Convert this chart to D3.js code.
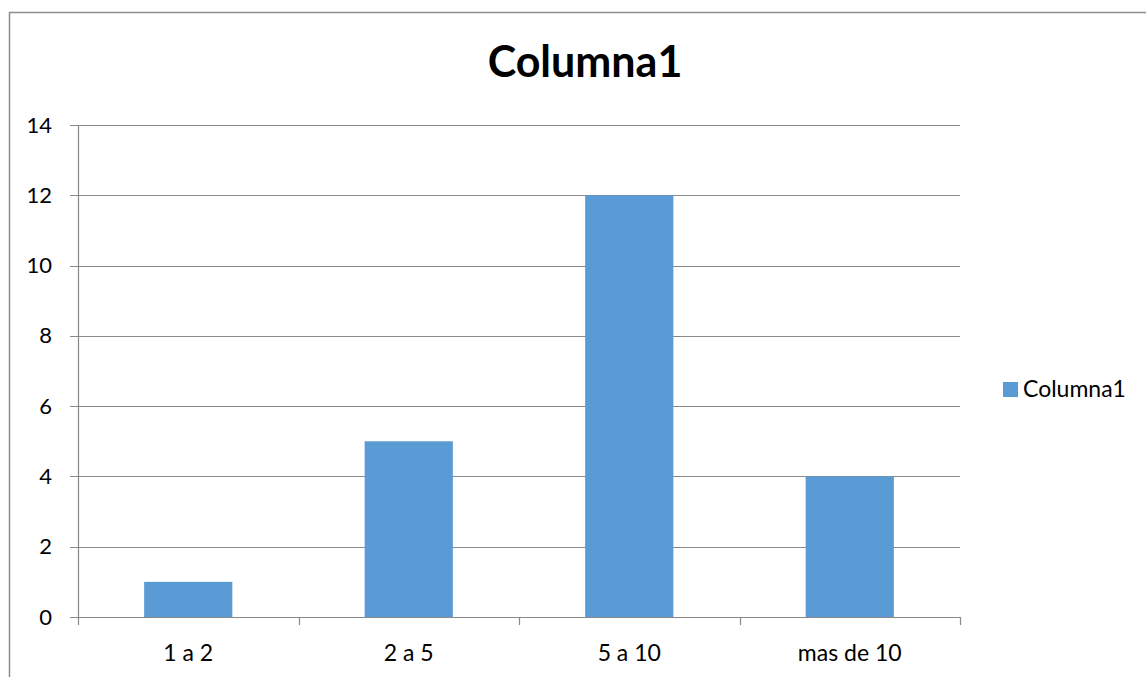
<!DOCTYPE html>
<html><head><meta charset="utf-8">
<script src="https://cdn.jsdelivr.net/npm/d3@7"></script>
<style>body{margin:0;background:#fff}svg{display:block}text{font-family:Lato,Carlito,"Open Sans",sans-serif;fill:#000}</style>
</head><body><svg id="c" width="1146" height="677"></svg>
<script>
const categories = ["1 a 2", "2 a 5", "5 a 10", "mas de 10"];
const values = [1, 5, 12, 4];
const yTicks = [0, 2, 4, 6, 8, 10, 12, 14];
const seriesName = "Columna1";
const title = "Columna1";

const svg = d3.select("#c");
const W = 1146, H = 677;
const m = {left: 78, right: 960, top: 125, bottom: 617};
const grey = "#898989";

// outer chart border (top and left visible)
svg.append("path").attr("d", `M9.5,${H} V12.5 H${W}`).attr("fill","none").attr("stroke","#8c8c8c").attr("stroke-width",1.5);

const x = d3.scaleBand().domain(categories).range([m.left, m.right]).paddingInner(0.6).paddingOuter(0.3);
const y = d3.scaleLinear().domain([0, 14]).range([m.bottom, m.top]);

// gridlines
svg.append("g").selectAll("line").data(yTicks).join("line")
  .attr("x1", m.left - 8).attr("x2", m.right)
  .attr("y1", d => Math.round(y(d)) + 0.5).attr("y2", d => Math.round(y(d)) + 0.5)
  .attr("stroke", grey).attr("stroke-width", 1.2);

// y axis line
svg.append("line").attr("x1", m.left + 0.5).attr("x2", m.left + 0.5)
  .attr("y1", m.top).attr("y2", m.bottom).attr("stroke", grey).attr("stroke-width", 1.2);

// y labels
svg.append("g").selectAll("text").data(yTicks).join("text")
  .attr("x", 52).attr("y", d => y(d) + 7.5).attr("text-anchor", "end")
  .attr("font-size", 22).text(d => d);

// bars
svg.append("g").selectAll("rect").data(values).join("rect")
  .attr("x", (d,i) => x(categories[i])).attr("width", x.bandwidth())
  .attr("y", d => y(d)).attr("height", d => y(0) - y(d))
  .attr("fill", "#5B9BD5");

// x axis baseline and ticks
const xt = d3.range(categories.length + 1).map(i => m.left + i * (m.right - m.left) / categories.length);
svg.append("line").attr("x1", m.left).attr("x2", m.right)
  .attr("y1", m.bottom + 0.5).attr("y2", m.bottom + 0.5).attr("stroke", grey).attr("stroke-width", 1.2);
svg.append("g").selectAll("line").data(xt).join("line")
  .attr("x1", d => Math.round(d) + 0.5).attr("x2", d => Math.round(d) + 0.5)
  .attr("y1", m.bottom).attr("y2", m.bottom + 8).attr("stroke", grey).attr("stroke-width", 1.2);

// x labels
svg.append("g").selectAll("text").data(categories).join("text")
  .attr("x", d => x(d) + x.bandwidth() / 2).attr("y", 661).attr("text-anchor", "middle")
  .attr("font-size", 23).text(d => d);

// title
svg.append("text").attr("x", 585).attr("y", 77).attr("text-anchor", "middle")
  .attr("font-size", 43).attr("font-weight", "bold").text(title);

// legend
svg.append("rect").attr("x", 1003).attr("y", 382).attr("width", 15).attr("height", 15).attr("fill", "#5B9BD5");
svg.append("text").attr("x", 1023).attr("y", 397).attr("font-size", 23).text(seriesName);
</script></body></html>
